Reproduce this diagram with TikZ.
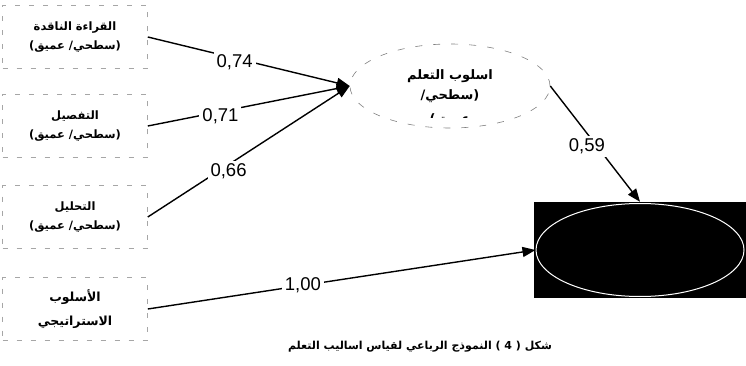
\documentclass[tikz,border=0pt]{standalone}
\usepackage{fontspec}
\setmainfont{Liberation Sans}
\newfontfamily\arabicfont[Script=Arabic]{DejaVu Sans}
\usetikzlibrary{positioning,arrows.meta,calc,shapes.geometric}
\TeXXeTstate=1

\begin{document}
\begin{tikzpicture}[x=1pt,y=-1pt,
   box/.style={draw=black!35, dash pattern=on 5pt off 9pt, line width=0.6pt,
               minimum width=145pt, minimum height=63pt, align=center,
               font=\arabicfont\bfseries\fontsize{11.5}{19}\selectfont},
   bigbox/.style={box, font=\arabicfont\bfseries\fontsize{12.5}{24}\selectfont},
   latent/.style={ellipse, draw=black!50, dash pattern=on 7pt off 11pt,
                  line width=0.6pt, minimum width=200pt, minimum height=84pt,
                  align=center, font=\arabicfont\bfseries\fontsize{13}{20}\selectfont},
   coef/.style={fill=white, inner sep=3pt, font=\fontsize{18.5}{20}\selectfont},
   link/.style={-{Triangle[length=13pt,width=10pt]}, line width=1.4pt}]
  \useasboundingbox (0,0) rectangle (746,366);
  % indicators
  \node[box] (crit) at (75,37) {\beginR القراءة الناقدة\endR\\\beginR(سطحي/ عميق)\endR};
  \node[box] (detail) at (75,126) {\beginR التفصيل\endR\\\beginR(سطحي/ عميق)\endR};
  \node[box] (anal) at (75,217) {\beginR التحليل\endR\\\beginR(سطحي/ عميق)\endR};
  \node[bigbox] (strat) at (75,309) {\beginR الأسلوب\endR\\\beginR الاستراتيجي\endR};
  % latent factor
  \node[latent] (lstyle) at (450,86) {\beginR اسلوب التعلم\endR\\\beginR(سطحي/\endR};
  \begin{scope}
    \clip (400,111) rectangle (500,118);
    \node[font=\arabicfont\bfseries\fontsize{13}{15}\selectfont] (cut) at (450,120) {\beginR عميق)\endR};
  \end{scope}
  % outcome
  \node[fill=black, minimum width=212pt, minimum height=96pt, inner sep=0pt] (res) at (640,250) {};
  \node[ellipse, draw=white, line width=1pt, minimum width=208pt, minimum height=93pt] (resell) at (res) {};
  % paths
  \draw[link] (crit.east) -- node[coef, pos=0.43, yshift=-4pt] (w1) {0,74} (lstyle.west);
  \draw[link] (detail.east) -- node[coef, pos=0.36, yshift=-5pt] (w2) {0,71} (lstyle.west);
  \draw[link] (anal.east) -- node[coef, pos=0.40, yshift=-7pt] (w3) {0,66} (lstyle.west);
  \draw[link] (strat.east) -- node[coef, pos=0.40] (w4) {1,00} (resell.west);
  \draw[link] (lstyle.east) -- node[coef, pos=0.52, xshift=-10pt] (w5) {0,59} (res.north);
  % caption
  \node[font=\arabicfont\bfseries\fontsize{11}{13}\selectfont] (cap) at (420,347)
    {\beginR شكل ( 4 ) النموذج الرباعي لقياس اساليب التعلم\endR};
\end{tikzpicture}
\end{document}
